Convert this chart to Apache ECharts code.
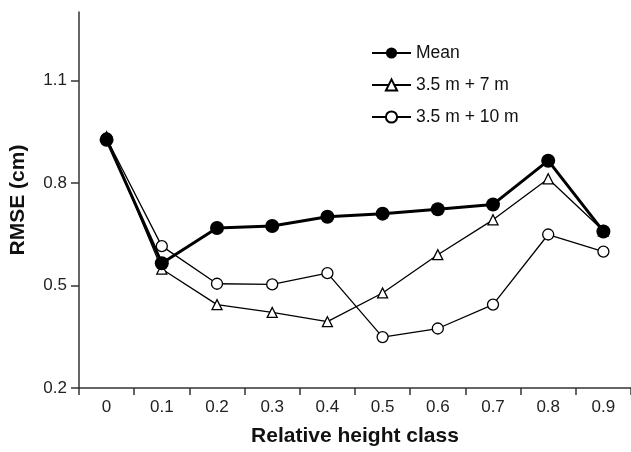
<!DOCTYPE html>
<html><head><meta charset="utf-8">
<script src="https://cdn.jsdelivr.net/npm/echarts@6/dist/echarts.min.js"></script>
<style>html,body{margin:0;padding:0;background:#fff}#c{width:631px;height:452px}</style>
</head><body><div id="c"></div>
<script>
const categories = ['0','0.1','0.2','0.3','0.4','0.5','0.6','0.7','0.8','0.9'];
const meanValues = [0.926,0.565,0.668,0.674,0.701,0.710,0.723,0.737,0.865,0.658];
const tri7Values = [0.935,0.548,0.444,0.421,0.394,0.478,0.590,0.692,0.812,0.660];
const circ10Values = [0.930,0.615,0.505,0.503,0.536,0.349,0.374,0.444,0.649,0.599];
const yTicks = [0.2,0.5,0.8,1.1];

const chart = echarts.init(document.getElementById('c'));
const font = 'Liberation Sans, Arial, sans-serif';
chart.setOption({
  animation:false,
  textStyle:{fontFamily:font},
  grid:{left:77,right:0,top:12,bottom:62},
  legend:{
    orient:'vertical', left:366, top:39, itemWidth:39, itemHeight:14, itemGap:14,
    textStyle:{fontSize:17.5,color:'#111',fontFamily:font},
    data:['Mean','3.5 m + 7 m','3.5 m + 10 m']
  },
  xAxis:{
    type:'category', data:categories, boundaryGap:true,
    name:'Relative height class', nameLocation:'middle', nameGap:38,
    nameTextStyle:{fontSize:21,fontWeight:'bold',color:'#111',fontFamily:font},
    axisLine:{lineStyle:{color:'#333',width:1.5}},
    axisTick:{show:true,length:7,lineStyle:{color:'#333',width:1.5}},
    axisLabel:{fontSize:17,color:'#222',margin:11,fontFamily:font}
  },
  yAxis:{
    type:'value', min:0.2, max:1.3,
    name:'RMSE (cm)', nameLocation:'middle', nameGap:50,
    nameTextStyle:{fontSize:21,fontWeight:'bold',color:'#111',fontFamily:font},
    axisLine:{show:true,lineStyle:{color:'#333',width:1.5}},
    axisTick:{show:true,length:8,customValues:yTicks,lineStyle:{color:'#333',width:1.5}},
    axisLabel:{fontSize:17,color:'#222',margin:12,customValues:yTicks,fontFamily:font,
      formatter:v=>String(Math.round(v*10)/10)},
    splitLine:{show:false}
  },
  series:[
    {name:'Mean',type:'line',data:meanValues,symbol:'circle',symbolSize:14,z:5,
     lineStyle:{color:'#000',width:3},itemStyle:{color:'#000'}},
    {name:'3.5 m + 7 m',type:'line',data:tri7Values,symbol:'triangle',symbolSize:10,z:3,
     lineStyle:{color:'#000',width:1.3},itemStyle:{color:'#fff',borderColor:'#000',borderWidth:1.3}},
    {name:'3.5 m + 10 m',type:'line',data:circ10Values,symbol:'circle',symbolSize:11,z:4,
     lineStyle:{color:'#000',width:1.3},itemStyle:{color:'#fff',borderColor:'#000',borderWidth:1.3}}
  ]
});
</script></body></html>
